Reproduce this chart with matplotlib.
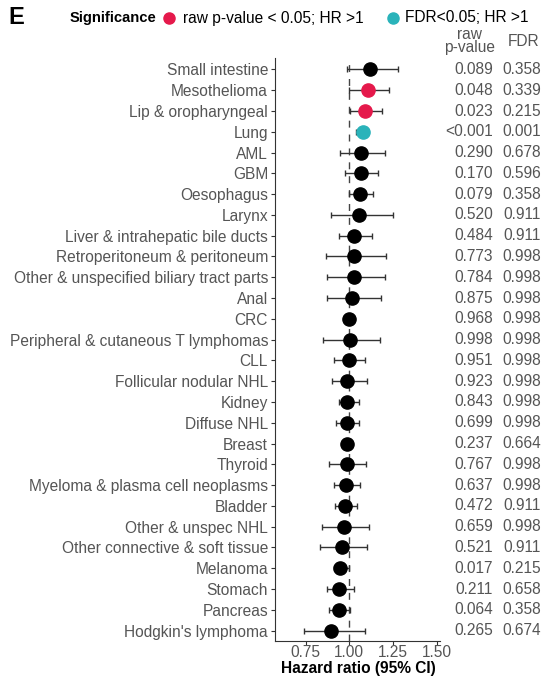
import matplotlib.pyplot as plt
import matplotlib.transforms as mtransforms

plt.rcParams['font.family'] = ['Liberation Sans', 'DejaVu Sans']

# cancer types, top to bottom
cancers = ["Small intestine", "Mesothelioma", "Lip & oropharyngeal", "Lung", "AML", "GBM",
           "Oesophagus", "Larynx", "Liver & intrahepatic bile ducts", "Retroperitoneum & peritoneum",
           "Other & unspecified biliary tract parts", "Anal", "CRC",
           "Peripheral & cutaneous T lymphomas", "CLL", "Follicular nodular NHL", "Kidney",
           "Diffuse NHL", "Breast", "Thyroid", "Myeloma & plasma cell neoplasms", "Bladder",
           "Other & unspec NHL", "Other connective & soft tissue", "Melanoma", "Stomach",
           "Pancreas", "Hodgkin's lymphoma"]
hr = [1.12, 1.11, 1.09, 1.077, 1.067, 1.065, 1.063, 1.054, 1.03, 1.03, 1.027, 1.015, 1.0,
      1.002, 0.998, 0.99, 0.99, 0.987, 0.987, 0.987, 0.983, 0.975, 0.973, 0.958, 0.95,
      0.944, 0.943, 0.897]
ci_low = [0.987, 1.0, 1.005, 1.04, 0.948, 0.977, 0.996, 0.895, 0.944, 0.868, 0.872, 0.872,
          0.99, 0.852, 0.915, 0.904, 0.943, 0.925, 0.97, 0.885, 0.914, 0.92, 0.843, 0.833,
          0.915, 0.872, 0.885, 0.743]
ci_high = [1.28, 1.23, 1.185, 1.107, 1.205, 1.165, 1.136, 1.25, 1.13, 1.213, 1.207, 1.184,
           1.01, 1.178, 1.092, 1.10, 1.057, 1.057, 1.005, 1.096, 1.06, 1.044, 1.115, 1.10,
           0.998, 1.03, 1.005, 1.092]
pvals = ["0.089", "0.048", "0.023", "<0.001", "0.290", "0.170", "0.079", "0.520", "0.484",
         "0.773", "0.784", "0.875", "0.968", "0.998", "0.951", "0.923", "0.843", "0.699",
         "0.237", "0.767", "0.637", "0.472", "0.659", "0.521", "0.017", "0.211", "0.064", "0.265"]
fdrs = ["0.358", "0.339", "0.215", "0.001", "0.678", "0.596", "0.358", "0.911", "0.911",
        "0.998", "0.998", "0.998", "0.998", "0.998", "0.998", "0.998", "0.998", "0.998",
        "0.664", "0.998", "0.998", "0.911", "0.998", "0.911", "0.215", "0.658", "0.358", "0.674"]
# significance group: 0 = none, 1 = raw p < 0.05 & HR > 1, 2 = FDR < 0.05 & HR > 1
group = [0, 1, 1, 2] + [0] * 24
xticks = [0.75, 1.00, 1.25, 1.50]

colors = {0: "black", 1: "#E5194B", 2: "#2AB3BA"}
grey = "#555555"
fs = 11.2

fig = plt.figure(figsize=(5.45, 6.79), dpi=100)
ax = fig.add_axes([275 / 545, 1 - 641 / 679, 165 / 545, 583 / 679])

n = len(cancers)
ypos = list(range(n))

ax.axvline(1.0, color="#444444", linestyle=(0, (5, 5)), linewidth=1.0, zorder=1)
for i in range(n):
    ax.errorbar(hr[i], ypos[i], xerr=[[hr[i] - ci_low[i]], [ci_high[i] - hr[i]]],
                fmt="none", ecolor="#333333", elinewidth=1.0, capsize=2.5, capthick=1.0, zorder=2)
    ax.plot(hr[i], ypos[i], "o", color=colors[group[i]], markersize=9.5, zorder=3)

ax.set_xlim(0.575, 1.52)
ax.set_ylim(n - 0.5, -0.55)
ax.set_xticks(xticks)
ax.set_xticklabels(["%.2f" % t for t in xticks])
ax.set_yticks(ypos)
ax.set_yticklabels(cancers)
ax.tick_params(axis="both", labelsize=fs, labelcolor=grey, color="#333333", length=3)
ax.tick_params(axis="x", pad=0)
ax.tick_params(axis="y", pad=2)
for s in ["top", "right"]:
    ax.spines[s].set_visible(False)
for s in ["left", "bottom"]:
    ax.spines[s].set_color("#333333")
fig.text(358 / 545, 1 - 668 / 679, "Hazard ratio (95% CI)", ha="center", va="center",
         fontsize=fs, fontweight="bold")

# p-value / FDR table on the right
trans = mtransforms.blended_transform_factory(fig.transFigure, ax.transData)
for i in range(n):
    ax.text(493 / 545, ypos[i], pvals[i], transform=trans, ha="right", va="center",
            fontsize=fs, color=grey, clip_on=False)
    ax.text(541 / 545, ypos[i], fdrs[i], transform=trans, ha="right", va="center",
            fontsize=fs, color=grey, clip_on=False)
fig.text(470 / 545, 1 - 41 / 679, "raw\np-value", ha="center", va="center", fontsize=fs,
         color=grey, linespacing=0.8)
fig.text(524 / 545, 1 - 42 / 679, "FDR", ha="center", va="center", fontsize=fs, color=grey)

# header / legend
fig.text(8 / 545, 1 - 18 / 679, "E", fontsize=17, fontweight="bold", va="center")
fig.text(70 / 545, 1 - 18 / 679, "Significance", fontsize=10.6, fontweight="bold", va="center")
fig.lines.append(plt.Line2D([169 / 545], [1 - 18 / 679], marker="o", color=colors[1],
                            markersize=8, transform=fig.transFigure))
fig.text(183 / 545, 1 - 18 / 679, "raw p-value < 0.05; HR >1", fontsize=fs, va="center")
fig.lines.append(plt.Line2D([393 / 545], [1 - 18 / 679], marker="o", color=colors[2],
                            markersize=8, transform=fig.transFigure))
fig.text(405 / 545, 1 - 18 / 679, "FDR<0.05; HR >1", fontsize=fs, va="center")

plt.savefig("out.png", dpi=100)
